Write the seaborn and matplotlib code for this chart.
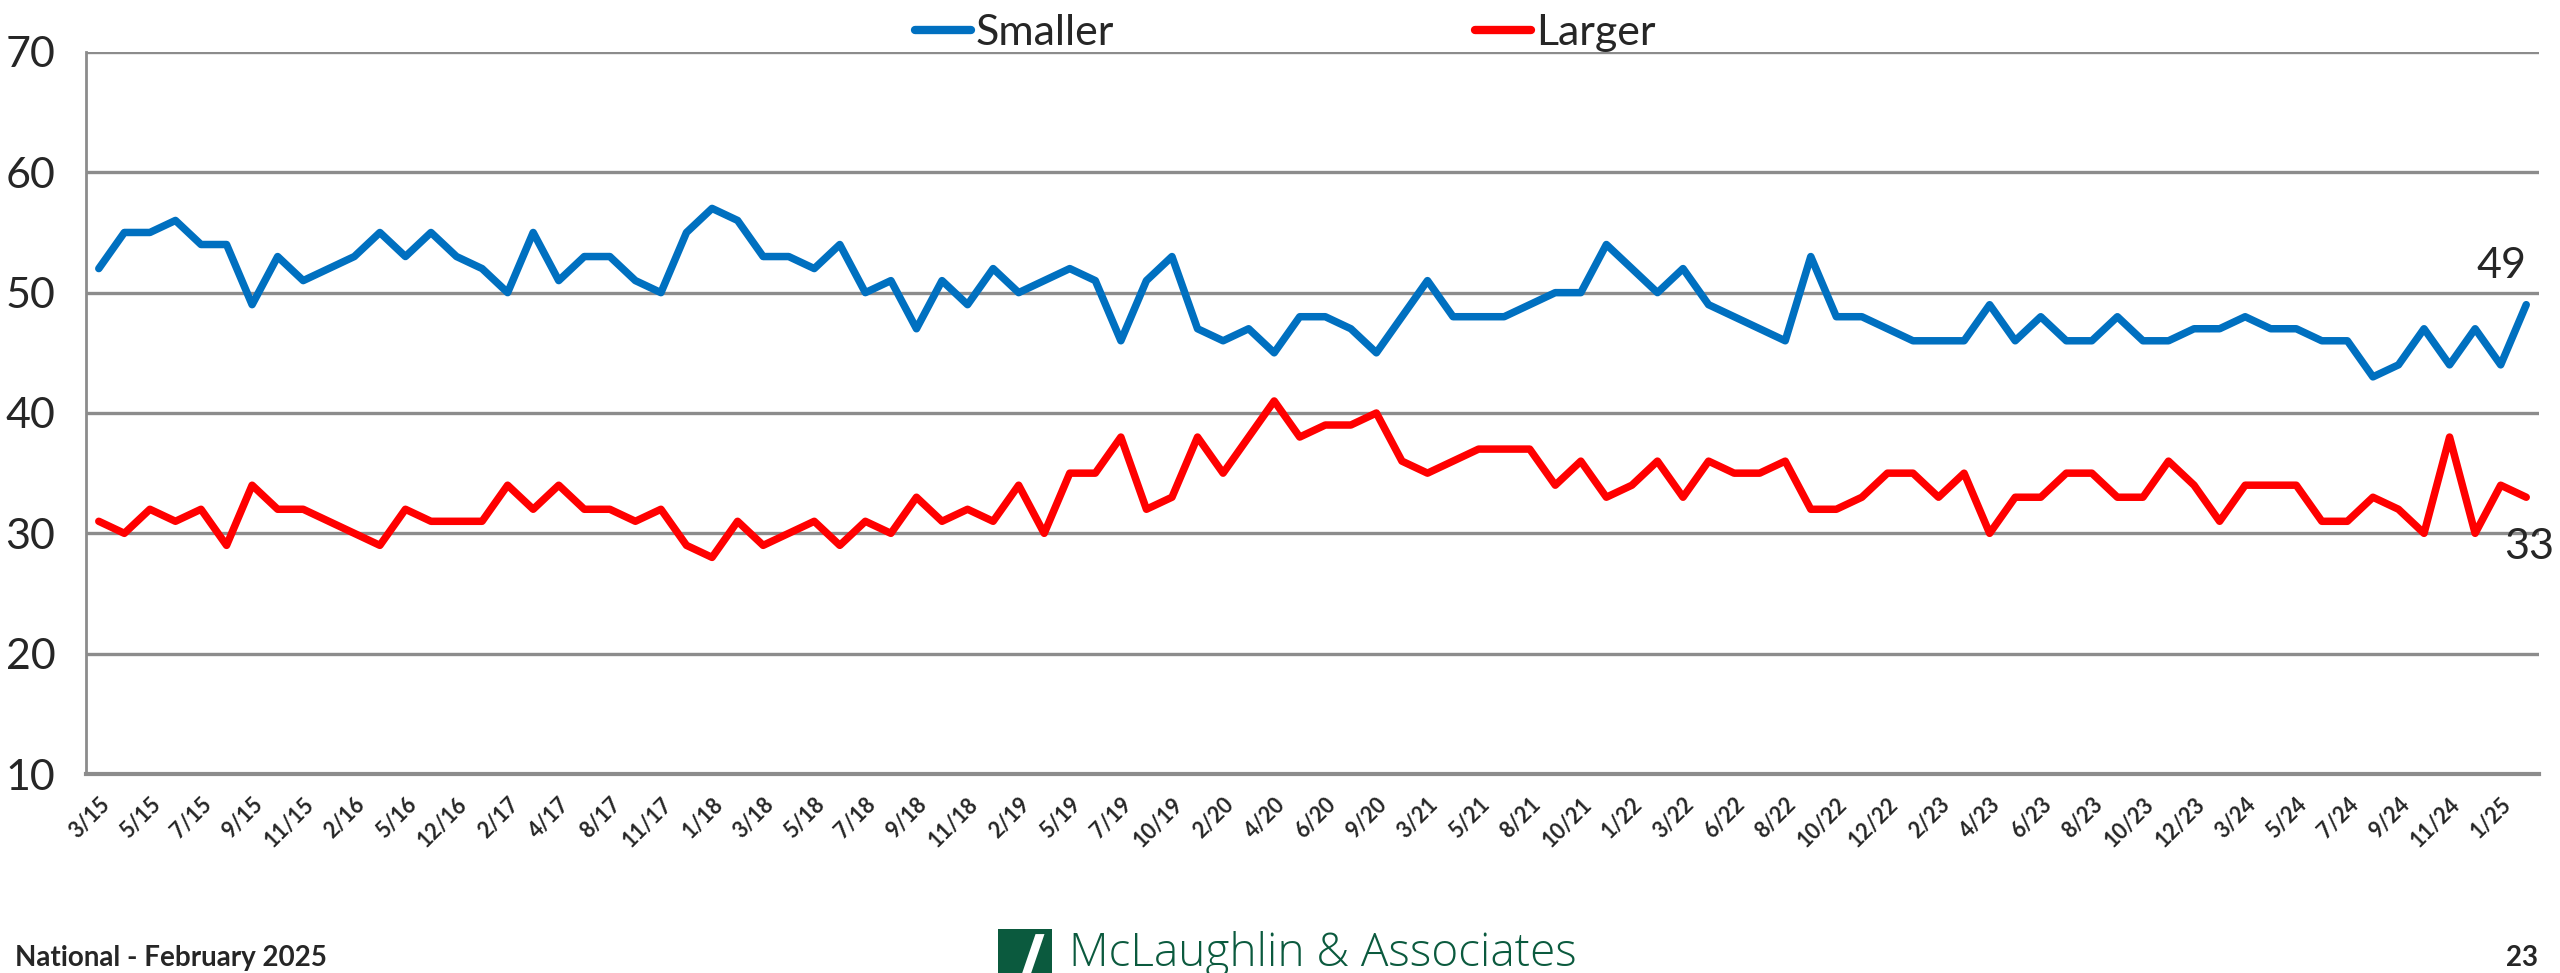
import pandas as pd
import seaborn as sns
import matplotlib.pyplot as plt
from matplotlib.lines import Line2D
from matplotlib.patches import Rectangle, Polygon

# Survey results, one value per poll (96 polls, 3/15 through 2/25)
smaller = [52, 55, 55, 56, 54, 54, 49, 53, 51, 52, 53, 55, 53, 55, 53, 52, 50, 55, 51, 53, 53, 51,
           50, 55, 57, 56, 53, 53, 52, 54, 50, 51, 47, 51, 49, 52, 50, 51, 52, 51, 46, 51, 53, 47, 46, 47,
           45, 48, 48, 47, 45, 48, 51, 48, 48, 48, 49, 50, 50, 54, 52, 50, 52, 49, 48, 47, 46, 53, 48, 48,
           47, 46, 46, 46, 49, 46, 48, 46, 46, 48, 46, 46, 47, 47, 48, 47, 47, 46, 46, 43, 44, 47, 44, 47, 44, 49]
larger = [31, 30, 32, 31, 32, 29, 34, 32, 32, 31, 30, 29, 32, 31, 31, 31, 34, 32, 34, 32, 32, 31,
          32, 29, 28, 31, 29, 30, 31, 29, 31, 30, 33, 31, 32, 31, 34, 30, 35, 35, 38, 32, 33, 38, 35, 38,
          41, 38, 39, 39, 40, 36, 35, 36, 37, 37, 37, 34, 36, 33, 34, 36, 33, 36, 35, 35, 36, 32, 32, 33,
          35, 35, 33, 35, 30, 33, 33, 35, 35, 33, 33, 36, 34, 31, 34, 34, 34, 31, 31, 33, 32, 30, 38, 30, 34, 33]

# Every other poll gets a label on the x axis
tick_labels = ['3/15', '5/15', '7/15', '9/15', '11/15', '2/16', '5/16', '12/16', '2/17', '4/17',
               '8/17', '11/17', '1/18', '3/18', '5/18', '7/18', '9/18', '11/18', '2/19', '5/19',
               '7/19', '10/19', '2/20', '4/20', '6/20', '9/20', '3/21', '5/21', '8/21', '10/21',
               '1/22', '3/22', '6/22', '8/22', '10/22', '12/22', '2/23', '4/23', '6/23', '8/23',
               '10/23', '12/23', '3/24', '5/24', '7/24', '9/24', '11/24', '1/25']

series_colors = {'Smaller': '#0070C0', 'Larger': '#FF0000'}

# Long format for seaborn
df = pd.DataFrame({'Poll': range(len(smaller)), 'Smaller': smaller, 'Larger': larger})
df_long = df.melt(id_vars='Poll', var_name='Series', value_name='Percent')

sns.set_theme(style='white')
plt.rcParams['font.family'] = ['Lato', 'DejaVu Sans']

fig = plt.figure(figsize=(25.6, 9.73), dpi=100)
ax = fig.add_axes([0.0336, 0.2045, 0.9582, 0.7421])

sns.lineplot(data=df_long, x='Poll', y='Percent', hue='Series', palette=series_colors,
             linewidth=5.4, ax=ax, legend=False)

# Axes styling
ax.set_xlim(-0.5, len(smaller) - 0.5)
ax.set_ylim(10, 70)
ax.set_yticks(range(10, 71, 10))
ax.yaxis.grid(True, color='#8c8c8c', linewidth=2.4)
ax.set_axisbelow(True)
ax.set_xlabel('')
ax.set_ylabel('')
ax.tick_params(axis='y', labelsize=31, length=0, pad=22)
ax.tick_params(axis='x', length=0, pad=8)
ax.set_xticks(range(0, len(smaller), 2))
ax.set_xticklabels(tick_labels, rotation=45, ha='right', rotation_mode='anchor',
                   fontsize=15.5, fontweight='bold')
for t in ax.get_xticklabels():
    t.set_y(-0.012)

for side in ['top', 'right']:
    ax.spines[side].set_visible(False)
ax.spines['left'].set_color('#8c8c8c')
ax.spines['left'].set_linewidth(2)
ax.spines['bottom'].set_color('#8c8c8c')
ax.spines['bottom'].set_linewidth(3)

# Last values
ax.annotate(str(smaller[-1]), xy=(len(smaller) - 1, smaller[-1]), xytext=(0, 14),
            textcoords='offset points', ha='right', va='bottom', fontsize=31)
ax.annotate(str(larger[-1]), xy=(len(larger) - 1, larger[-1]), xytext=(20, -22),
            textcoords='offset points', ha='right', va='top', fontsize=31)

# Legend at the top
handles = [Line2D([], [], color=series_colors[s], linewidth=6, solid_capstyle='round') for s in series_colors]
fig.legend(handles, list(series_colors), loc='upper center', bbox_to_anchor=(0.502, 1.025), ncol=2,
           frameon=False, fontsize=31, handlelength=1.3, handletextpad=0.1, columnspacing=8.4)

# Footer
fig.text(0.006, 0.002, 'National - February 2025', fontsize=20, fontweight='bold', va='bottom')
fig.text(0.979, 0.002, '23', fontsize=20, fontweight='bold', va='bottom')
fig.text(0.4175, 0.043, 'McLaughlin & Associates', fontsize=33, color='#0b5a3e', va='top',
         fontfamily='Open Sans', fontweight='light')
fig.patches.append(Rectangle((0.390, -0.01), 0.021, 0.055, transform=fig.transFigure,
                             facecolor='#0b5a3e', edgecolor='none'))
fig.patches.append(Polygon([(0.398, -0.01), (0.4015, -0.01), (0.408, 0.04), (0.4045, 0.04)],
                           closed=True, transform=fig.transFigure, facecolor='white', edgecolor='none'))

fig.savefig('out.png', dpi=100)
